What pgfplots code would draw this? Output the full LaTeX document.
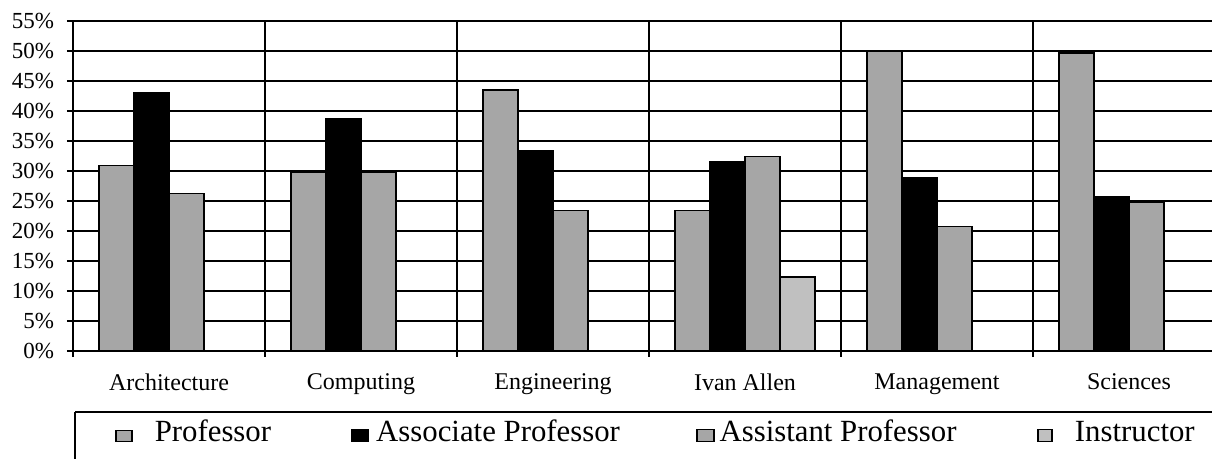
\documentclass[border=0pt]{standalone}
\usepackage{pgfplots}
\pgfplotsset{compat=1.18}
\usepackage{fontspec}
\setmainfont{Liberation Serif}
\definecolor{pgray}{HTML}{A6A6A6}
\definecolor{igray}{HTML}{C0C0C0}
\begin{document}
\begin{tikzpicture}
\useasboundingbox (0,0) rectangle (606pt,229.5pt);
\begin{axis}[
  name=ax,
  at={(36.5pt,54pt)}, anchor=south west,
  scale only axis, width=576pt, height=165pt,
  xmin=-0.5, xmax=5.5, ymin=0, ymax=55,
  ybar=0pt, bar width=0.1823,
  xtick={-0.5,0.5,...,5.5}, xticklabels={,,,,,,,},
  extra x ticks={0,1,2,3,4,5},
  extra x tick labels={Architecture,Computing,Engineering,Ivan Allen,Management,Sciences},
  extra x tick style={grid=none, major tick length=0pt},
  ytick={0,5,...,55},
  yticklabels={0\%,5\%,10\%,15\%,20\%,25\%,30\%,35\%,40\%,45\%,50\%,55\%},
  xmajorgrids=true, ymajorgrids=true,
  grid style={black, line width=0.9pt},
  tick align=outside, tick pos=left,
  major tick length=3pt,
  tick style={black, line width=0.9pt},
  axis line style={line width=0.9pt},
  x tick label style={font=\fontsize{12}{14}\selectfont, yshift=-8pt},
  y tick label style={font=\fontsize{11.5}{13}\selectfont, xshift=-3pt},
  legend columns=4,
  legend style={at={(0,0)}, anchor=north west, xshift=1pt, yshift=-34.25pt,
    draw=none, fill=none, inner sep=0pt, column sep=0pt,
    cells={anchor=base west}, nodes={inner sep=0pt},
    font=\fontsize{15.4}{18}\selectfont},
]
\addplot[fill=pgray, draw=black, line width=0.7pt, bar shift=-0.2734,
  legend image code/.code={\path (0,0) (39pt,0); \filldraw[fill=pgray,draw=black,line width=0.8pt] (20pt,0pt) rectangle (28pt,5.5pt);}]
  coordinates {(0,30.9) (1,29.8) (2,43.5) (3,23.4) (4,50.0) (5,49.7)};
\addlegendentry{\makebox[93.5pt][l]{Professor}}
\addplot[fill=black, draw=black, line width=0.7pt, bar shift=-0.0911,
  legend image code/.code={\path (0,0) (16.5pt,0); \filldraw[fill=black,draw=black,line width=0.8pt] (4.5pt,0pt) rectangle (13pt,6pt);}]
  coordinates {(0,43.1) (1,38.7) (2,33.3) (3,31.6) (4,28.8) (5,25.7)};
\addlegendentry{\makebox[156pt][l]{Associate Professor}}
\addplot[fill=pgray, draw=black, line width=0.7pt, bar shift=0.0911,
  legend image code/.code={\path (0,0) (15pt,0); \filldraw[fill=pgray,draw=black,line width=0.8pt] (4pt,0pt) rectangle (12.5pt,6pt);}]
  coordinates {(0,26.2) (1,29.8) (2,23.4) (3,32.4) (4,20.7) (5,24.8)};
\addlegendentry{\makebox[152.5pt][l]{Assistant Professor}}
\addplot[fill=igray, draw=black, line width=0.7pt, bar shift=0.2734,
  legend image code/.code={\path (0,0) (24.5pt,0); \filldraw[fill=igray,draw=black,line width=0.8pt] (6.5pt,0pt) rectangle (13.5pt,6pt);}]
  coordinates {(3,12.3)};
\addlegendentry{Instructor}
\end{axis}
\draw[line width=0.9pt] ([xshift=1pt,yshift=-30.5pt]ax.south west) -- ++(0,-40pt);
\draw[line width=0.9pt] ([xshift=1pt,yshift=-30.5pt]ax.south west) -- ++(620pt,0);
\end{tikzpicture}
\end{document}
